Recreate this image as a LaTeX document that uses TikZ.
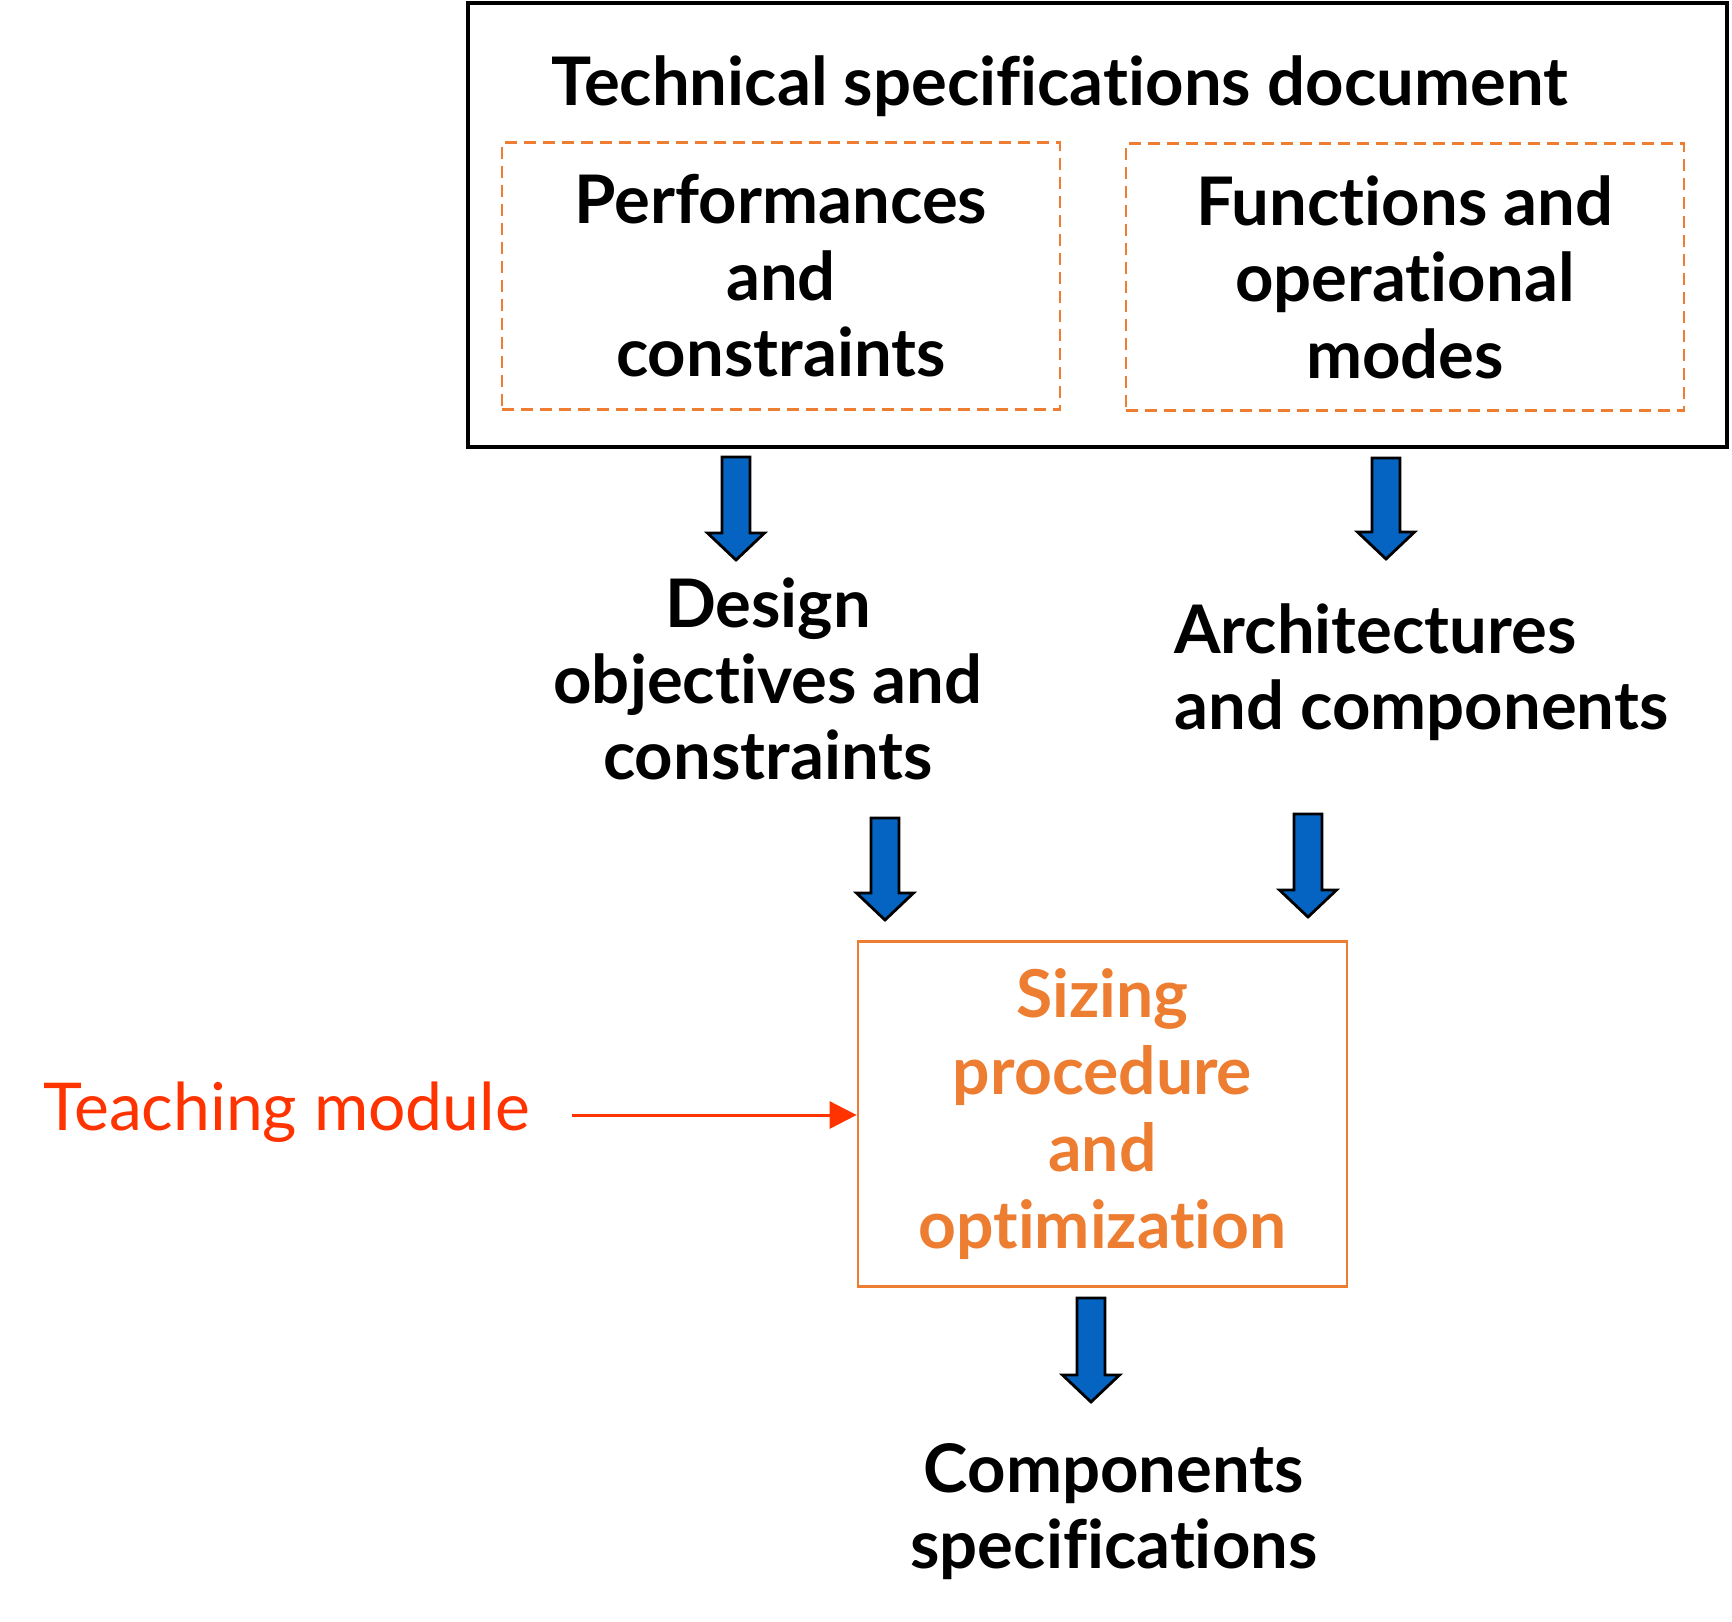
\documentclass[tikz,border=0pt]{standalone}
\usepackage{fontspec}
\setmainfont{Lato}[Ligatures={NoCommon}]
\usetikzlibrary{arrows.meta}
\definecolor{specorange}{RGB}{237,125,49}
\definecolor{teachred}{RGB}{255,51,0}
\definecolor{arrowblue}{RGB}{5,99,193}
\newcommand\blockarrow[3]{% x, ytop, ytip
  \draw[blockarrowstyle] (#1-14,#2) -- (#1+14,#2) -- (#1+14,#3-27) -- (#1+28.5,#3-27)
    -- (#1,#3) -- (#1-28.5,#3-27) -- (#1-14,#3-27) -- cycle;}
\begin{document}
\begin{tikzpicture}[x=1pt,y=-1pt,
  txt/.style={inner sep=0pt, align=center, font=\fontsize{67}{76}\selectfont\bfseries},
  outerbox/.style={draw=black, line width=3.3pt, minimum width=1259pt, minimum height=444pt, inner sep=0pt},
  dashbox/.style={draw=specorange, line width=2.7pt, dash pattern=on 12pt off 7pt, inner sep=0pt,
     minimum width=558pt, minimum height=267pt, align=center, font=\fontsize{67}{76.5}\selectfont\bfseries},
  sizebox/.style={draw=specorange, line width=2.8pt, inner sep=0pt, minimum width=489pt, minimum height=345pt,
     align=center, text=specorange, font=\fontsize{66}{77}\selectfont\bfseries},
  blockarrowstyle/.style={draw=black, fill=arrowblue, line width=2.8pt, line join=miter},
  teacharrow/.style={draw=teachred, line width=3pt, -{Triangle[length=27pt,width=27pt]}},
]
\useasboundingbox (0,0) rectangle (1732,1622);
\node[outerbox] (spec) at (1097.5,225) {};
\node[txt, anchor=base] (title) at (1060,105) {Technical specifications document};
\node[dashbox] (perf) at (781,276) {Performances\\and\\constraints};
\node[dashbox] (func) at (1405,277) {Functions and\\operational\\modes};
\node[txt, anchor=base] (design) at (768,779) {Design\\objectives and\\constraints};
\node[txt, anchor=base west, align=left] (arch) at (1174,729) {Architectures\\and components};
\node[sizebox] (sizing) at (1102.5,1114) {Sizing\\procedure\\and\\optimization};
\node[inner sep=0pt, anchor=base west, text=teachred, font=\fontsize{66}{77}\selectfont] (teach) at (43,1130) {Teaching module};
\node[txt, anchor=base] (comp) at (1114,1568) {Components\\specifications};
\blockarrow{736}{457}{560}
\blockarrow{1386}{458}{559}
\blockarrow{885}{818}{920}
\blockarrow{1308}{814}{917}
\blockarrow{1091}{1298}{1402}
\coordinate (tstart) at (572,1115);
\draw[teacharrow] (tstart) -- (tstart -| sizing.west);
\end{tikzpicture}
\end{document}
